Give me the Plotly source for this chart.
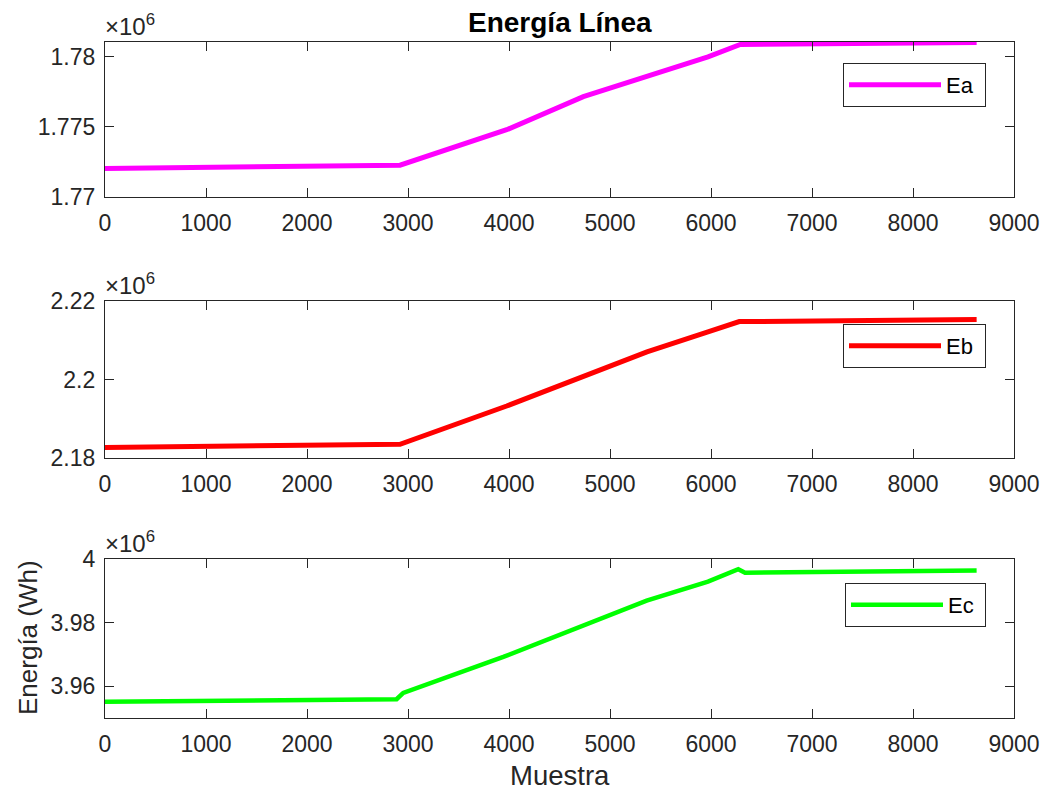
import plotly.graph_objects as go

# ---- data ----
muestra_a = [0, 2921, 3977, 4736, 5970, 6290, 8630]
ea = [1772040, 1772270, 1774800, 1777160, 1780000, 1780880, 1781020]

muestra_b = [0, 2921, 3977, 4980, 5366, 5970, 6280, 8630]
eb = [2182700, 2183490, 2193250, 2202960, 2207030, 2212130, 2214750, 2215290]

muestra_c = [0, 2887, 2953, 3383, 3944, 5363, 5970, 6270, 6337, 8630]
ec = [3955100, 3955900, 3957900, 3962900, 3969200, 3986900, 3992900, 3996800, 3995700, 3996400]

x_ticks = [0, 1000, 2000, 3000, 4000, 5000, 6000, 7000, 8000, 9000]
ya_ticks = [1770000, 1775000, 1780000]
ya_text = ["1.77", "1.775", "1.78"]
yb_ticks = [2180000, 2200000, 2220000]
yb_text = ["2.18", "2.2", "2.22"]
yc_ticks = [3960000, 3980000, 4000000]
yc_text = ["3.96", "3.98", "4"]

W, H = 1052, 790
FONT = "Liberation Sans, Arial, Helvetica, sans-serif"
AX = "#262626"

def py(p):
    return 1 - p / H

fig = go.Figure()
fig.add_trace(go.Scatter(x=muestra_a, y=ea, mode="lines", name="Ea&nbsp;",
                         line=dict(color="#FF00FF", width=5), xaxis="x", yaxis="y", legend="legend"))
fig.add_trace(go.Scatter(x=muestra_b, y=eb, mode="lines", name="Eb&nbsp;",
                         line=dict(color="#FF0000", width=5), xaxis="x2", yaxis="y2", legend="legend2"))
fig.add_trace(go.Scatter(x=muestra_c, y=ec, mode="lines", name="Ec&nbsp;",
                         line=dict(color="#00FF00", width=4.5), xaxis="x3", yaxis="y3", legend="legend3"))

common_x = dict(range=[0, 9000], tickvals=x_ticks, ticks="inside", ticklen=9, tickwidth=1.3,
                tickcolor=AX, showline=True, linecolor=AX, linewidth=1.3, mirror="ticks",
                showgrid=False, zeroline=False, tickfont=dict(family=FONT, size=23, color=AX),
                ticklabelstandoff=5, automargin=False)
common_y = dict(ticks="inside", ticklen=9, tickwidth=1.3, tickcolor=AX, showline=True,
                linecolor=AX, linewidth=1.3, mirror="ticks", showgrid=False, zeroline=False,
                tickfont=dict(family=FONT, size=23, color=AX), ticklabelstandoff=4,
                automargin=False)

doms = [(42, 197), (301, 458), (559, 718)]
ranges = [[1770000, 1781060], [2180000, 2220000], [3950000, 4000000]]
yt = [(ya_ticks, ya_text), (yb_ticks, yb_text), (yc_ticks, yc_text)]

lay = {}
for i, ((top, bot), rng, (tv, tt)) in enumerate(zip(doms, ranges, yt)):
    sfx = "" if i == 0 else str(i + 1)
    lay["xaxis" + sfx] = dict(common_x, domain=[0, 1], anchor="y" + sfx)
    lay["yaxis" + sfx] = dict(common_y, domain=[py(bot), py(top)], range=rng,
                              tickvals=tv, ticktext=tt, anchor="x" + sfx)

legend_common = dict(bgcolor="white", bordercolor=AX, borderwidth=1,
                     font=dict(family=FONT, size=22, color="black"),
                     xanchor="right", yanchor="top", itemwidth=92)
legs = [(986, 63), (986, 324), (986, 583)]
for i, (xr, yt_) in enumerate(legs):
    key = "legend" if i == 0 else "legend" + str(i + 1)
    lay[key] = dict(legend_common, x=(xr - 105) / 909, y=py(yt_))

annotations = [
    dict(text="<b>Energía Línea</b>", x=0.5, y=py(22), xref="paper", yref="paper",
         showarrow=False, font=dict(family=FONT, size=28, color="black"), yanchor="middle"),
    dict(text="Muestra", x=0.5, y=py(775), xref="paper", yref="paper", showarrow=False,
         font=dict(family=FONT, size=27.5, color=AX), yanchor="middle"),
    dict(text="Energía (Wh)", x=(28 - 105) / 909, y=py(638), xref="paper", yref="paper",
         showarrow=False, textangle=-90, font=dict(family=FONT, size=26, color=AX),
         xanchor="center", yanchor="middle"),
]
for top, _ in doms:
    annotations.append(dict(text="×10<sup>6</sup>", x=0, y=py(top), xref="paper", yref="paper",
                            xanchor="left", yanchor="bottom", showarrow=False, xshift=-2, yshift=0,
                            font=dict(family=FONT, size=24, color=AX)))

fig.update_layout(**lay)
fig.update_layout(width=W, height=H, margin=dict(l=105, r=38, t=0, b=0, autoexpand=False),
                  plot_bgcolor="white", paper_bgcolor="white", showlegend=True,
                  annotations=annotations)
fig.write_html("out.html", config={"displayModeBar": False},
               post_script="document.body.style.margin='0px';")
